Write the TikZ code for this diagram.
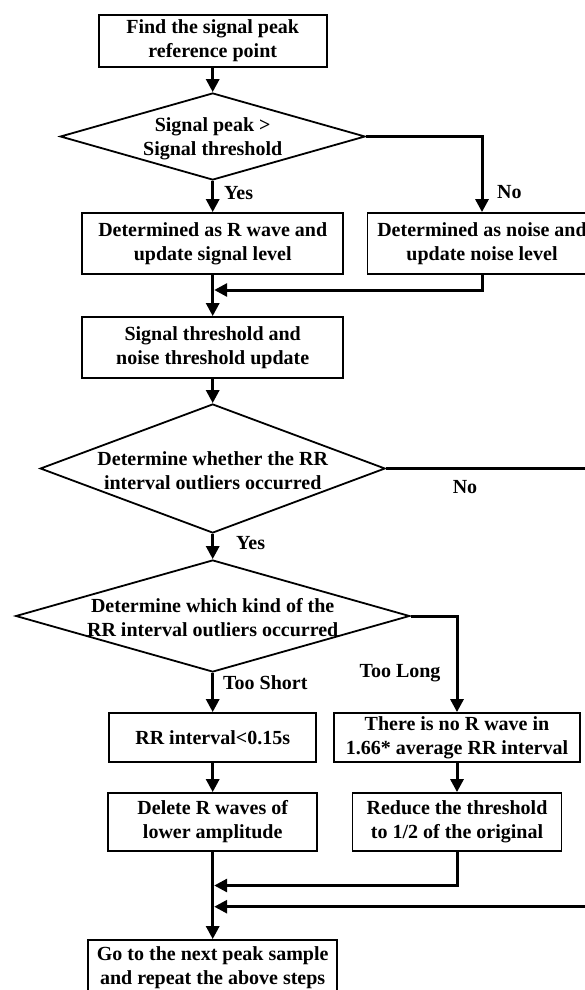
\documentclass[tikz,border=0pt]{standalone}
\usepackage{fontspec}
\setmainfont{Liberation Serif}
\usetikzlibrary{arrows.meta,shapes.geometric}
\begin{document}
\begin{tikzpicture}[x=1pt,y=-1pt,
  box/.style={draw,line width=1.8pt,rectangle,inner sep=0pt,align=center,font=\fontsize{20}{24}\selectfont\bfseries},
  dia/.style={draw,line width=1.8pt,diamond,inner sep=0pt},
  txt/.style={inner sep=0pt,align=center,font=\fontsize{20}{24}\selectfont\bfseries},
  lbl/.style={inner sep=0pt,font=\fontsize{20}{24}\selectfont\bfseries},
  conn/.style={line width=3pt},
  arr/.style={conn,-{Triangle[length=13pt,width=13pt]}}]
\useasboundingbox (0,0) rectangle (585,990);
\clip (0,0) rectangle (585,990);
\fill[white] (0,0) rectangle (585,990);

\node[box,minimum width=228pt,minimum height=52pt] (b1) at (212.7,41) {Find the signal peak\\reference point};
\node[dia,minimum width=305pt,minimum height=87pt] (d1) at (212.7,136.5) {};
\node[txt] (d1t) at (212.7,138.5) {Signal peak >\\Signal threshold};
\node[box,minimum width=261pt,minimum height=61pt] (b2) at (212.7,243.5) {Determined as R wave and\\update signal level};
\node[box,minimum width=229pt,minimum height=61pt] (b2n) at (482,243.5) {Determined as noise and\\update noise level};
\node[box,minimum width=261pt,minimum height=61pt] (b3) at (212.7,347.5) {Signal threshold and\\noise threshold update};
\node[dia,minimum width=345pt,minimum height=129pt] (d2) at (212.7,468.5) {};
\node[txt] (d2t) at (212.7,470.5) {Determine whether the RR\\interval outliers occurred};
\node[dia,minimum width=394pt,minimum height=112pt] (d3) at (212.7,616) {};
\node[txt] (d3t) at (212.7,618) {Determine which kind of the\\RR interval outliers occurred};
\node[box,minimum width=207pt,minimum height=49pt] (b4) at (212.7,737.5) {RR interval<0.15s};
\node[box,minimum width=246pt,minimum height=49pt] (b5) at (457,737.5) {There is no R wave in\\1.66* average RR interval};
\node[box,minimum width=209pt,minimum height=58pt] (b6) at (212.7,822) {Delete R waves of\\lower amplitude};
\node[box,minimum width=209pt,minimum height=58pt] (b7) at (457,822) {Reduce the threshold\\to 1/2 of the original};
\node[box,minimum width=249pt,minimum height=56pt] (b8) at (212.7,968) {Go to the next peak sample\\and repeat the above steps};

\coordinate (m1) at (212.7,290);
\coordinate (m2) at (212.7,885.5);
\coordinate (m3) at (212.7,906.7);
\coordinate (r2) at (600,468.5);

\draw[arr] (b1) -- (d1);
\draw[arr] (d1) -- (b2);
\draw[arr] (d1.east) -| (b2n.north);
\draw[arr] (b2) -- (b3);
\draw[arr] (b2n.south) |- ([xshift=1.5pt]m1);
\draw[arr] (b3) -- (d2);
\draw[arr] (d2) -- (d3);
\draw[arr] (d2.east) -- (r2) |- ([xshift=1.5pt]m3);
\draw[arr] (d3) -- (b4);
\draw[arr] (d3.east) -| (b5.north);
\draw[arr] (b4) -- (b6);
\draw[arr] (b5) -- (b7);
\draw[arr] (b7.south) |- ([xshift=1.5pt]m2);
\draw[arr] (b6) -- (b8);

\node[lbl,anchor=west] (y1) at (224,193) {Yes};
\node[lbl,anchor=west] (n1) at (497,192) {No};
\node[lbl] (n2) at (465,487) {No};
\node[lbl,anchor=west] (y2) at (236,543) {Yes};
\node[lbl,anchor=west] (ts) at (223,683) {Too Short};
\node[lbl] (tl) at (400,673) {Too Long};
\end{tikzpicture}
\end{document}
